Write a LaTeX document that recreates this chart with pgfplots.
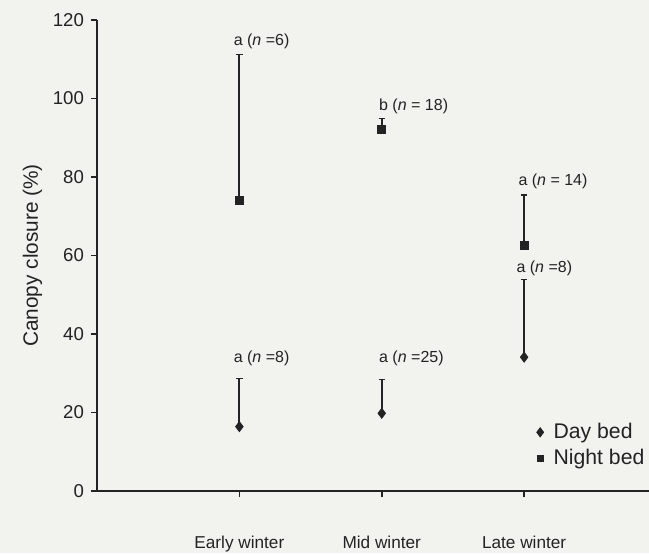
\documentclass[border=0pt]{standalone}
\usepackage{pgfplots}
\pgfplotsset{compat=1.18}
\usepackage{fontspec}
\setmainfont{Liberation Sans}
\definecolor{paper}{RGB}{242,242,238}
\definecolor{ink}{RGB}{35,35,35}
\begin{document}
\begin{tikzpicture}
\useasboundingbox[fill=paper] (-48.5pt,-31pt) rectangle (276pt,245.5pt);
\begin{axis}[
  at={(0,0)}, anchor=south west,
  scale only axis, width=276pt, height=235.5pt,
  xmin=0, xmax=3.877, ymin=0, ymax=120,
  axis x line=bottom, axis y line=left,
  axis line style={-, ink, line width=0.8pt},
  xtick={1,2,3}, xticklabels={Early winter, Mid winter, Late winter},
  ytick={0,20,...,120},
  tick align=outside, major tick length=3pt,
  tick style={ink, line width=0.8pt},
  /pgf/number format/assume math mode=true,
  yticklabel style={font=\fontsize{9.3}{11}\selectfont, text=ink},
  xticklabel style={font=\fontsize{8.6}{10}\selectfont, text=ink, yshift=-16pt},
  ylabel={Canopy closure (\%)},
  ylabel style={font=\fontsize{10.4}{12}\selectfont, text=ink, yshift=-1.5pt},
  clip=false,
  legend style={draw=none, fill=none, font=\fontsize{10.6}{12}\selectfont, text=ink,
    at={(0.785,0.162)}, anchor=north west, row sep=0pt},
  legend cell align=left,
]
\addplot+[only marks, mark=diamond*, mark size=2.5pt, color=ink,
  mark options={fill=ink, draw=ink},
  legend image code/.code={\draw[ink, mark=diamond*, mark size=2.3pt, mark options={fill=ink}] plot coordinates {(0.3cm,0cm)};},
  error bars/.cd, y dir=plus, y explicit,
  error bar style={line width=1pt, ink},
  error mark options={rotate=90, mark size=1.6pt, line width=0.6pt, ink}]
  coordinates {(1,16.4) +- (0,12.3) (2,19.8) +- (0,8.7) (3,34.1) +- (0,19.7)};
\addlegendentry{\hspace{3pt}Day bed}
\addplot+[only marks, mark=square*, mark size=2pt, color=ink,
  mark options={fill=ink, draw=ink},
  legend image code/.code={\draw[ink, mark=square*, mark size=1.6pt, mark options={fill=ink}] plot coordinates {(0.3cm,0cm)};},
  error bars/.cd, y dir=plus, y explicit,
  error bar style={line width=1pt, ink},
  error mark options={rotate=90, mark size=1.6pt, line width=0.6pt, ink}]
  coordinates {(1,74.0) +- (0,37.3) (2,92.2) +- (0,2.8) (3,62.7) +- (0,12.7)};
\addlegendentry{\hspace{3pt}Night bed}
\begin{scope}[every node/.style={anchor=west, inner sep=0pt, text=ink, font=\fontsize{8}{9}\selectfont}]
\node at (axis cs:0.958,114.5) {a (\textit{n} =6)};
\node at (axis cs:1.979,98.1) {b (\textit{n} = 18)};
\node at (axis cs:0.958,33.8) {a (\textit{n} =8)};
\node at (axis cs:1.979,33.9) {a (\textit{n} =25)};
\node at (axis cs:2.958,78.8) {a (\textit{n} = 14)};
\node at (axis cs:2.944,56.7) {a (\textit{n} =8)};
\end{scope}
\end{axis}
\end{tikzpicture}
\end{document}
